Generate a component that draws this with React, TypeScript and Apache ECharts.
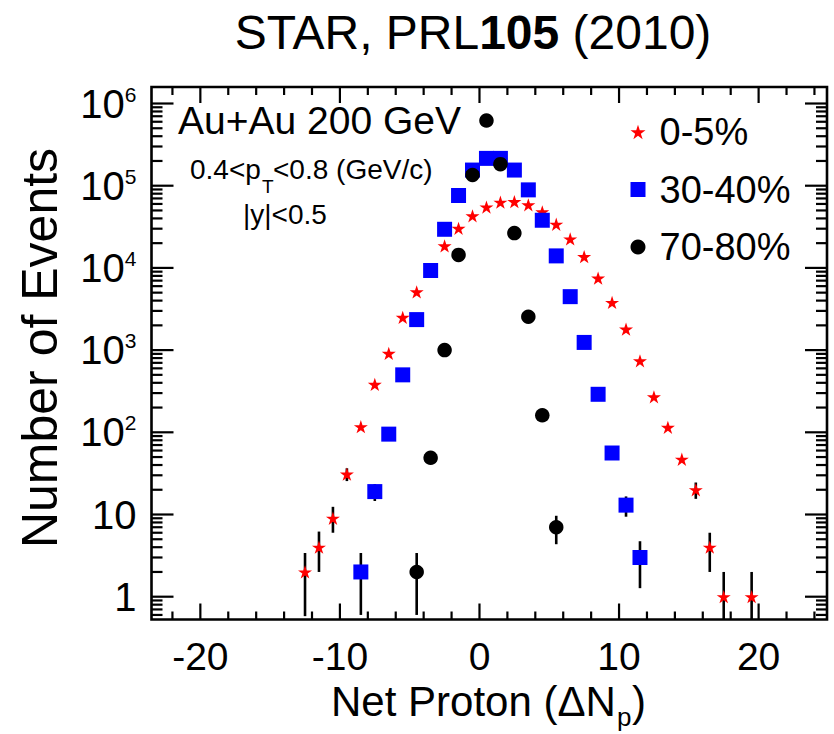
import React, { useEffect, useRef } from 'react';
import * as echarts from 'echarts';

const FONT = '"Liberation Sans", Arial, Helvetica, sans-serif';

// ---- data ----
const seriesNames = ['0-5%', '30-40%', '70-80%'];

const redX = [-12.5, -11.5, -10.5, -9.5, -8.5, -7.5, -6.5, -5.5, -4.5, -3.5, -2.5, -1.5, -0.5, 0.5, 1.5, 2.5, 3.5, 4.5, 5.5, 6.5, 7.5, 8.5, 9.5, 10.5, 11.5, 12.5, 13.5, 14.5, 15.5, 16.5, 17.5, 19.5];
const redY = [2, 4, 9, 31, 117, 383, 912, 2500, 5100, 9500, 18500, 30300, 43000, 55000, 63000, 64000, 58500, 48000, 34000, 22500, 13700, 7500, 3800, 1800, 740, 270, 115, 47, 20, 4, 1, 1];

const blueX = [-8.5, -7.5, -6.5, -5.5, -4.5, -3.5, -2.5, -1.5, -0.5, 0.5, 1.5, 2.5, 3.5, 4.5, 5.5, 6.5, 7.5, 8.5, 9.5, 10.5, 11.5];
const blueY = [2, 19, 95, 500, 2350, 9300, 29500, 76000, 155000, 215000, 215000, 155000, 89000, 38000, 14000, 4470, 1240, 290, 56, 13, 3];

const blackX = [-4.5, -3.5, -2.5, -1.5, -0.5, 0.5, 1.5, 2.5, 3.5, 4.5, 5.5];
const blackY = [2, 49, 1000, 14400, 135000, 620000, 183000, 26500, 2550, 161, 7];

// visible error bars: [x, low, high]
const redErr = [[-12.5, 0.58, 3.4], [-11.5, 2, 6.2], [-10.5, 6, 12.4], [-9.5, 25.5, 36.5], [15.5, 15.5, 24.5], [16.5, 2, 6], [17.5, 0, 2], [19.5, 0, 2]];
const blueErr = [[-8.5, 0.6, 3.4], [-7.5, 14.6, 23.4], [10.5, 9.4, 16.6], [11.5, 1.27, 4.73]];
const blackErr = [[-4.5, 0.6, 3.4], [-3.5, 42, 56], [5.5, 4.35, 9.65]];

// axis ticks
const xMajorTicks = [-20, -10, 0, 10, 20];
const xMinorTicks = [-22, -18, -16, -14, -12, -8, -6, -4, -2, 2, 4, 6, 8, 12, 14, 16, 18, 22, 24];
const yMajorTicks = [1, 10, 100, 1000, 10000, 100000, 1000000];
const yMinorTicks = [0.6, 0.7, 0.8, 0.9,
  2, 3, 4, 5, 6, 7, 8, 9,
  20, 30, 40, 50, 60, 70, 80, 90,
  200, 300, 400, 500, 600, 700, 800, 900,
  2000, 3000, 4000, 5000, 6000, 7000, 8000, 9000,
  20000, 30000, 40000, 50000, 60000, 70000, 80000, 90000,
  200000, 300000, 400000, 500000, 600000, 700000, 800000, 900000];

const X_MIN = -23.5;
const X_MAX = 24.9;
const Y_MIN = 0.528;
const Y_MAX = 1.588e6;

const STAR = 'path://M0,-10L2.245,-3.09L9.511,-3.09L3.633,1.18L5.878,8.09L0,3.82L-5.878,8.09L-3.633,1.18L-9.511,-3.09L-2.245,-3.09Z';

export default function App() {
  const ref = useRef<HTMLDivElement>(null);

  useEffect(() => {
    const chart = echarts.init(ref.current as HTMLDivElement, null, { renderer: 'svg' });

    const pts = (xs: number[], ys: number[]) => xs.map((x, i) => [x, ys[i]]);

    const errSeries = (errs: number[][]) => ({
      type: 'custom',
      silent: true,
      z: 1,
      data: errs,
      encode: { x: 0, y: 2 },
      renderItem: (params: any, api: any) => {
        const x = api.value(0);
        const lo = Math.max(api.value(1), Y_MIN);
        const hi = api.value(2);
        const a = api.coord([x, lo]);
        const b = api.coord([x, hi]);
        return {
          type: 'line',
          shape: { x1: a[0], y1: a[1], x2: b[0], y2: b[1] },
          style: { stroke: '#000', lineWidth: 2.6 },
        };
      },
    });

    const tickStyle = { stroke: '#000', lineWidth: 2.2 };
    const tickSeries = (vals: number[], axis: 'x' | 'y', len: number) => ({
      type: 'custom',
      silent: true,
      z: 6,
      data: vals.map((v) => (axis === 'x' ? [v, 1] : [0, v])),
      encode: { x: 0, y: 1 },
      renderItem: (params: any, api: any) => {
        const cs = params.coordSys;
        if (axis === 'x') {
          const px = api.coord([api.value(0), 1])[0];
          return {
            type: 'group',
            children: [
              { type: 'line', shape: { x1: px, y1: cs.y + cs.height, x2: px, y2: cs.y + cs.height - len }, style: tickStyle },
              { type: 'line', shape: { x1: px, y1: cs.y, x2: px, y2: cs.y + len }, style: tickStyle },
            ],
          };
        }
        const py = api.coord([0, api.value(1)])[1];
        return {
          type: 'group',
          children: [
            { type: 'line', shape: { x1: cs.x, y1: py, x2: cs.x + len, y2: py }, style: tickStyle },
            { type: 'line', shape: { x1: cs.x + cs.width, y1: py, x2: cs.x + cs.width - len, y2: py }, style: tickStyle },
          ],
        };
      },
    });

    const txt = (text: string, x: number, y: number, fontSize: number, extra: any = {}) => ({
      type: 'text',
      x,
      y,
      ...extra,
      style: {
        text,
        fontSize,
        fontFamily: FONT,
        fill: '#000',
        align: extra.align || 'left',
        textAlign: extra.align || 'left',
        verticalAlign: 'middle',
        textVerticalAlign: 'middle',
      },
    });

    const option: any = {
      animation: false,
      backgroundColor: '#fff',
      textStyle: { fontFamily: FONT, color: '#000' },
      grid: {
        left: 151.5,
        top: 87,
        right: 7,
        bottom: 114.5,
        show: true,
        borderColor: '#000',
        borderWidth: 2.6,
        backgroundColor: 'transparent',
        containLabel: false,
      },
      xAxis: {
        type: 'value',
        min: X_MIN,
        max: X_MAX,
        splitNumber: 5,
        minInterval: 10,
        maxInterval: 10,
        axisLine: { show: false },
        axisTick: { show: false },
        splitLine: { show: false },
        axisLabel: {
          margin: 17,
          fontSize: 39,
          fontFamily: FONT,
          color: '#000',
          formatter: (v: number) => (Math.abs(v % 10) < 1e-6 ? String(Math.round(v)) : ''),
        },
      },
      yAxis: {
        type: 'log',
        logBase: 10,
        min: Y_MIN,
        max: Y_MAX,
        axisLine: { show: false },
        axisTick: { show: false },
        splitLine: { show: false },
        axisLabel: {
          margin: 15,
          fontFamily: FONT,
          color: '#000',
          formatter: (v: number) => {
            const l = Math.log10(v);
            const e = Math.round(l);
            if (Math.abs(l - e) > 1e-6) return '';
            if (e === 0) return '{n|1}';
            if (e === 1) return '{n|10}';
            return '{n|10}{s|' + String(e) + '}';
          },
          rich: {
            n: { fontSize: 40, fontFamily: FONT, color: '#000' },
            s: { fontSize: 21, fontFamily: FONT, color: '#000', lineHeight: 16, verticalAlign: 'top' },
          },
        },
      },
      legend: {
        orient: 'vertical',
        left: 625.5,
        top: 108,
        itemWidth: 15,
        itemHeight: 15,
        itemGap: 19.5,
        symbolKeepAspect: true,
        data: seriesNames,
        textStyle: { fontSize: 38, lineHeight: 38, fontFamily: FONT, color: '#000', padding: [0, 0, 0, 9] },
      },
      graphic: [
        {
          type: 'text',
          x: 473,
          y: 32,
          style: {
            text: '{n|STAR, PRL}{b|105}{n| (2010)}',
            rich: {
              n: { fontSize: 48, fontFamily: FONT, fill: '#000', color: '#000' },
              b: { fontSize: 48, fontFamily: FONT, fontWeight: 'bold', fill: '#000', color: '#000' },
            },
            align: 'center',
            verticalAlign: 'middle',
            textAlign: 'center',
            textVerticalAlign: 'middle',
          },
        },
        txt('Number of Events', 40, 348, 50, { rotation: Math.PI / 2, align: 'center' }),
        txt('Net Proton (ΔN', 331, 701, 42),
        txt('p', 617, 717, 26),
        txt(')', 632, 701, 42),
        txt('Au+Au 200 GeV', 178, 120, 39),
        txt('0.4<p', 190, 169, 28),
        txt('T', 262, 186, 19),
        txt('<0.8 (GeV/c)', 273, 169, 28),
        txt('|y|<0.5', 243, 214, 28),
      ],
      series: [
        errSeries(redErr),
        errSeries(blueErr),
        errSeries(blackErr),
        {
          name: seriesNames[0],
          type: 'scatter',
          z: 2,
          symbol: STAR,
          symbolSize: 14,
          symbolKeepAspect: true,
          itemStyle: { color: '#ff0000', opacity: 1 },
          data: pts(redX, redY),
        },
        {
          name: seriesNames[1],
          type: 'scatter',
          z: 3,
          symbol: 'rect',
          symbolSize: 15,
          itemStyle: { color: '#0000ff', opacity: 1 },
          data: pts(blueX, blueY),
        },
        {
          name: seriesNames[2],
          type: 'scatter',
          z: 4,
          symbol: 'circle',
          symbolSize: 14.5,
          itemStyle: { color: '#000000', opacity: 1 },
          data: pts(blackX, blackY),
        },
        tickSeries(xMajorTicks, 'x', 16),
        tickSeries(xMinorTicks, 'x', 8),
        tickSeries(yMajorTicks, 'y', 22),
        tickSeries(yMinorTicks, 'y', 11),
      ],
    };

    chart.setOption(option);
    return () => {
      chart.dispose();
    };
  }, []);

  return (
    <div
      ref={ref}
      style={{ position: 'fixed', left: 0, top: 0, width: 834, height: 734, background: '#fff' }}
    />
  );
}
